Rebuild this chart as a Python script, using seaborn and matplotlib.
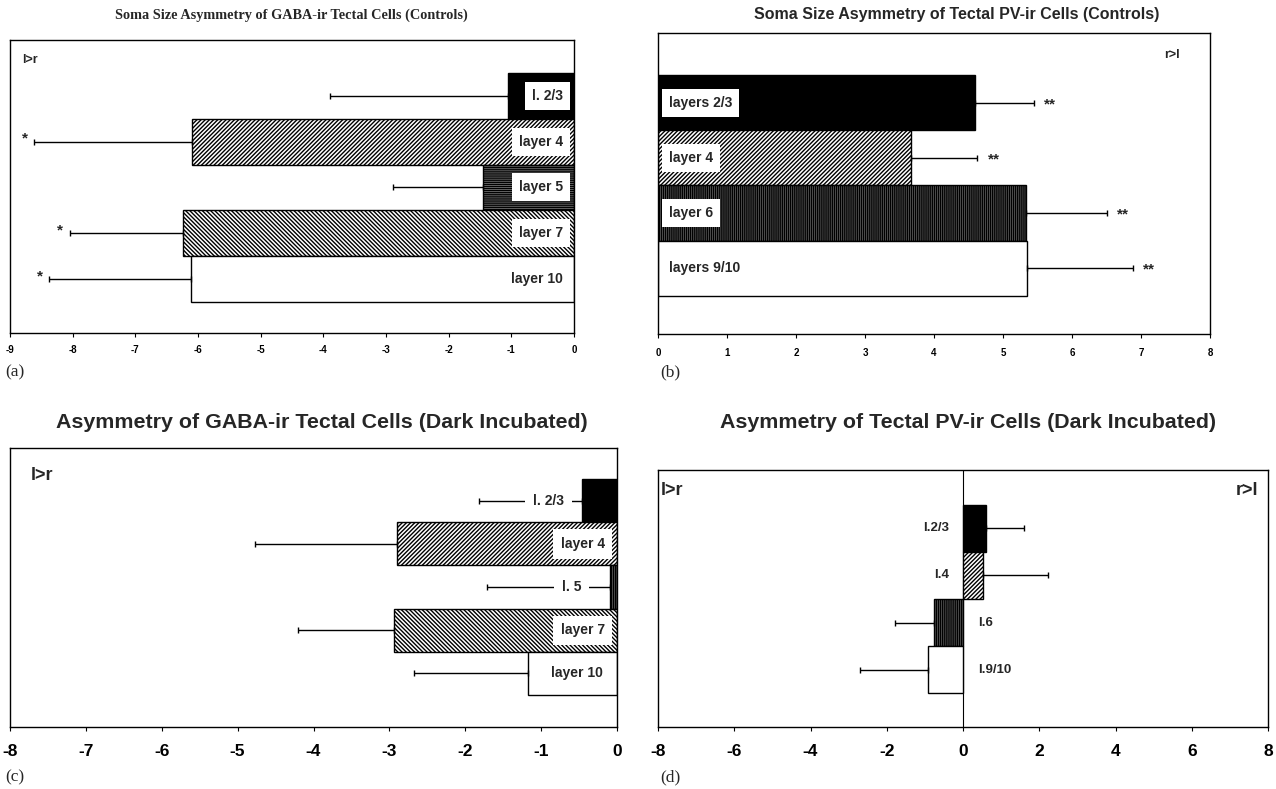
import numpy as np
import pandas as pd
import matplotlib
matplotlib.use("Agg")
import matplotlib.pyplot as plt
import seaborn as sns

# ---------------- data ----------------
a_layers = ["l. 2/3", "layer 4", "layer 5", "layer 7", "layer 10"]
a_vals = [-1.05, -6.09, -1.45, -6.24, -6.11]
a_err = [2.85, 2.53, 1.44, 1.81, 2.27]
a_sig = ["", "*", "", "*", "*"]

b_layers = ["layers 2/3", "layer 4", "layer 6", "layers 9/10"]
b_vals = [4.60, 3.66, 5.34, 5.35]
b_err = [0.85, 0.97, 1.16, 1.53]
b_sig = ["**", "**", "**", "**"]

c_layers = ["l. 2/3", "layer 4", "l. 5", "layer 7", "layer 10"]
c_vals = [-0.46, -2.90, -0.09, -2.94, -1.17]
c_err = [1.36, 1.87, 1.62, 1.26, 1.50]

d_layers = ["l.2/3", "l.4", "l.6", "l.9/10"]
d_vals = [0.60, 0.52, -0.77, -0.92]
d_err = [1.00, 1.70, 1.02, 1.77]

a_ticks = list(range(-9, 1))
b_ticks = list(range(0, 9))
c_ticks = list(range(-8, 1))
d_ticks = list(range(-8, 9, 2))

# ---------------- styling ----------------
sns.set_theme(style="white")
plt.rcParams["font.family"] = ["Liberation Sans", "DejaVu Sans"]
plt.rcParams["hatch.linewidth"] = 1.0

W, H = 1276, 789
fig = plt.figure(figsize=(W / 100, H / 100), dpi=100)


def px_axes(l, t, r, b):
    return fig.add_axes([l / W, 1 - b / H, (r - l) / W, (b - t) / H])


SANS = ["Liberation Sans", "DejaVu Sans"]
SERIF = ["Liberation Serif", "DejaVu Serif"]

styles = {
    "black": dict(fc="black", hatch=None),
    "fwd": dict(fc="white", hatch="/" * 8),
    "back": dict(fc="white", hatch="\\" * 8),
    "horiz": dict(fc="#8a8a8a", hatch="-" * 8),
    "vert": dict(fc="#6a6a6a", hatch="|" * 8),
    "white": dict(fc="white", hatch=None),
}


def draw(ax, layers, vals, errs, pats, xlim, ylim, ticks, tick_fs, tick_pad):
    df = pd.DataFrame({"layer": layers, "value": vals})
    sns.barplot(data=df, x="value", y="layer", order=layers, orient="h",
                width=1.0, color="white", edgecolor="black", linewidth=1.0,
                ax=ax, errorbar=None, zorder=2)
    for p, key in zip(ax.patches, pats):
        st = styles[key]
        p.set_facecolor(st["fc"])
        p.set_edgecolor("black")
        if st["hatch"]:
            p.set_hatch(st["hatch"])
    pos = np.arange(len(layers))
    vals_a = np.asarray(vals)
    errs_a = np.asarray(errs)
    lower = np.where(vals_a < 0, errs_a, 0)
    upper = np.where(vals_a >= 0, errs_a, 0)
    ax.errorbar(vals_a, pos, xerr=[lower, upper], fmt="none", ecolor="black",
                elinewidth=1.0, capsize=2.5, capthick=1.0, zorder=3)
    ax.set_xlim(*xlim)
    ax.set_ylim(*ylim)
    ax.set_xticks(ticks)
    ax.set_xticklabels([str(t) for t in ticks], fontsize=tick_fs,
                       fontweight="bold", family=SANS)
    ax.set_yticks([])
    ax.set_xlabel("")
    ax.set_ylabel("")
    ax.tick_params(axis="x", direction="out", length=3, width=0.8,
                   bottom=True, pad=tick_pad, colors="black")
    for s in ax.spines.values():
        s.set_visible(True)
        s.set_color("black")
        s.set_linewidth(1.0)
    ax.set_facecolor("white")
    return pos


# ---------------- panel a ----------------
axa = px_axes(10, 40, 574, 333)
draw(axa, a_layers, a_vals, a_err,
     ["black", "fwd", "horiz", "back", "white"],
     (-9, 0), (4.5 + 0.68, -0.5 - 0.72), a_ticks, 7, 5.5)
for i, (lab, v, e, s) in enumerate(zip(a_layers, a_vals, a_err, a_sig)):
    axa.text(-0.18, i, lab, ha="right", va="center", fontsize=10,
             fontweight="bold", family=SANS,
             bbox=dict(facecolor="white", edgecolor="none", pad=5.0), zorder=5)
    if s:
        axa.text(v - e - 0.1, i - 0.06, s, ha="right", va="center",
                 fontsize=11, fontweight="bold", zorder=5)
axa.text(0.022, 0.932, "l>r", transform=axa.transAxes, ha="left", va="center",
         fontsize=9, fontweight="bold", family=SANS)

# ---------------- panel b ----------------
axb = px_axes(658, 33, 1210, 334)
draw(axb, b_layers, b_vals, b_err,
     ["black", "fwd", "vert", "white"],
     (0, 8), (3.5 + 0.69, -0.5 - 0.76), b_ticks, 7, 7)
for i, (lab, v, e, s) in enumerate(zip(b_layers, b_vals, b_err, b_sig)):
    axb.text(0.16, i, lab, ha="left", va="center", fontsize=10,
             fontweight="bold", family=SANS,
             bbox=dict(facecolor="white", edgecolor="none", pad=5.0), zorder=5)
    axb.text(v + e + 0.15, i + 0.03, s, ha="left", va="center",
             fontsize=11, fontweight="bold", zorder=5)
axb.text(0.946, 0.927, "r>l", transform=axb.transAxes, ha="right", va="center",
         fontsize=9, fontweight="bold", family=SANS)

# ---------------- panel c ----------------
axc = px_axes(10, 448, 617, 727)
draw(axc, c_layers, c_vals, c_err,
     ["black", "fwd", "vert", "back", "white"],
     (-8, 0), (4.5 + 0.74, -0.5 - 0.72), c_ticks, 12.5, 9)
c_lab_x = [-0.70, -0.16, -0.47, -0.16, -0.18]
for i, (lab, xx) in enumerate(zip(c_layers, c_lab_x)):
    axc.text(xx, i, lab, ha="right", va="center", fontsize=10,
             fontweight="bold", family=SANS,
             bbox=dict(facecolor="white", edgecolor="none", pad=5.5), zorder=5)
axc.text(0.035, 0.903, "l>r", transform=axc.transAxes, ha="left", va="center",
         fontsize=13, fontweight="bold", family=SANS)

# ---------------- panel d ----------------
axd = px_axes(658, 470, 1268, 727)
draw(axd, d_layers, d_vals, d_err,
     ["black", "fwd", "vert", "white"],
     (-8, 8), (3.5 + 0.72, -0.5 - 0.74), d_ticks, 12.5, 9)
axd.axvline(0, color="black", lw=0.8, zorder=1)
for i, (lab, v) in enumerate(zip(d_layers, d_vals)):
    if v > 0:
        axd.text(-0.37, i, lab, ha="right", va="center", fontsize=9.5,
                 fontweight="bold", family=SANS, zorder=5)
    else:
        axd.text(0.39, i, lab, ha="left", va="center", fontsize=9.5,
                 fontweight="bold", family=SANS, zorder=5)
axd.text(0.005, 0.922, "l>r", transform=axd.transAxes, ha="left", va="center",
         fontsize=13, fontweight="bold", family=SANS)
axd.text(0.984, 0.922, "r>l", transform=axd.transAxes, ha="right", va="center",
         fontsize=13, fontweight="bold", family=SANS)

# ---------------- titles & panel letters ----------------
fig.text(291 / W, 1 - 15 / H, "Soma Size Asymmetry of GABA-ir Tectal Cells (Controls)",
         ha="center", va="center", fontsize=10.3, fontweight="bold", family=SERIF)
fig.text(957 / W, 1 - 15 / H, "Soma Size Asymmetry of Tectal PV-ir Cells (Controls)",
         ha="center", va="center", fontsize=11.5, fontweight="bold", family=SANS)
fig.text(322 / W, 1 - 423 / H, "Asymmetry of GABA-ir Tectal Cells (Dark Incubated)",
         ha="center", va="center", fontsize=15.4, fontweight="bold", family=SANS)
fig.text(968 / W, 1 - 423 / H, "Asymmetry of Tectal PV-ir Cells (Dark Incubated)",
         ha="center", va="center", fontsize=15.4, fontweight="bold", family=SANS)

for lab, x, y in [("(a)", 5, 372), ("(b)", 660, 372), ("(c)", 5, 777), ("(d)", 660, 777)]:
    fig.text(x / W, 1 - y / H, lab, ha="left", va="center", fontsize=12.5, family=SERIF)

fig.savefig("out.png", dpi=100, facecolor="white")
